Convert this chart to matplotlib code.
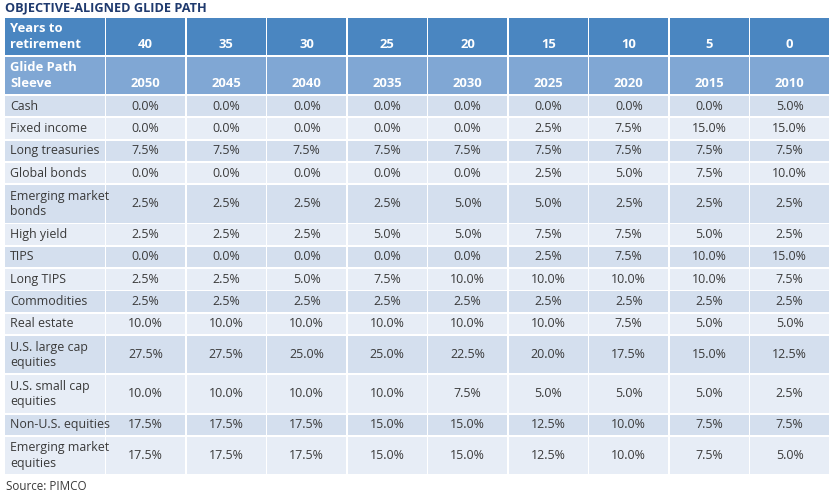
import numpy as np
import matplotlib.pyplot as plt
from matplotlib.patches import Rectangle

plt.rcParams['font.family'] = ['Open Sans', 'DejaVu Sans']

years_to_retirement = ['40', '35', '30', '25', '20', '15', '10', '5', '0']
vintages = ['2050', '2045', '2040', '2035', '2030', '2025', '2020', '2015', '2010']

sleeves = ['Cash', 'Fixed income', 'Long treasuries', 'Global bonds',
           'Emerging market\nbonds', 'High yield', 'TIPS', 'Long TIPS',
           'Commodities', 'Real estate', 'U.S. large cap\nequities',
           'U.S. small cap\nequities', 'Non-U.S. equities',
           'Emerging market\nequities']

# weights in %, one row per sleeve, columns follow the vintages
weights = np.array([
    [0.0, 0.0, 0.0, 0.0, 0.0, 0.0, 0.0, 0.0, 5.0],
    [0.0, 0.0, 0.0, 0.0, 0.0, 2.5, 7.5, 15.0, 15.0],
    [7.5, 7.5, 7.5, 7.5, 7.5, 7.5, 7.5, 7.5, 7.5],
    [0.0, 0.0, 0.0, 0.0, 0.0, 2.5, 5.0, 7.5, 10.0],
    [2.5, 2.5, 2.5, 2.5, 5.0, 5.0, 2.5, 2.5, 2.5],
    [2.5, 2.5, 2.5, 5.0, 5.0, 7.5, 7.5, 5.0, 2.5],
    [0.0, 0.0, 0.0, 0.0, 0.0, 2.5, 7.5, 10.0, 15.0],
    [2.5, 2.5, 5.0, 7.5, 10.0, 10.0, 10.0, 10.0, 7.5],
    [2.5, 2.5, 2.5, 2.5, 2.5, 2.5, 2.5, 2.5, 2.5],
    [10.0, 10.0, 10.0, 10.0, 10.0, 10.0, 7.5, 5.0, 5.0],
    [27.5, 27.5, 25.0, 25.0, 22.5, 20.0, 17.5, 15.0, 12.5],
    [10.0, 10.0, 10.0, 10.0, 7.5, 5.0, 5.0, 5.0, 2.5],
    [17.5, 17.5, 17.5, 15.0, 15.0, 12.5, 10.0, 7.5, 7.5],
    [17.5, 17.5, 17.5, 15.0, 15.0, 12.5, 10.0, 7.5, 5.0],
])

W, H = 835, 497
fig = plt.figure(figsize=(W / 100, H / 100), dpi=100)
ax = fig.add_axes([0, 0, 1, 1])
ax.set_xlim(0, W)
ax.set_ylim(H, 0)
ax.axis('off')

HEAD1 = '#4a86c1'
HEAD2 = '#80a7d4'
ROW_DARK = '#d4dfee'
ROW_LIGHT = '#e7edf6'
TXT = '#3a3a3a'
NAVY = '#1f3a6e'

left, right = 4, 830
first_w = 101.5
col_w = (right - left - first_w) / len(vintages)
col_x = [left] + [left + first_w + i * col_w for i in range(len(vintages))]
col_ws = [first_w] + [col_w] * len(vintages)
gap = 1.8

ax.text(left + 1, 8, 'OBJECTIVE-ALIGNED GLIDE PATH', fontsize=9.2,
        fontweight='bold', color=NAVY, va='center', ha='left')


def draw_row(y0, h, color, cells, bold, tcolor, top_label=False):
    fs = 9.4 if bold else 8.9
    fw = 'bold' if bold else 'normal'
    for j, (x, w) in enumerate(zip(col_x, col_ws)):
        ax.add_patch(Rectangle((x + gap / 2, y0 + gap / 2), w - gap, h - gap,
                               facecolor=color, edgecolor='none'))
        if j == 0:
            ax.text(x + 6, y0 + h / 2, cells[j], fontsize=fs, fontweight=fw,
                    color=tcolor, ha='left', va='center', linespacing=1.22)
        else:
            yy = y0 + h * 0.71 if top_label else y0 + h / 2
            ax.text(x + w / 2, yy, cells[j], fontsize=fs, fontweight=fw,
                    color=tcolor, ha='center', va='center')


y = 17.0
head_h = 39.0
draw_row(y, head_h, HEAD1, ['Years to\nretirement'] + years_to_retirement,
         True, 'white', top_label=True)
y += head_h
draw_row(y, head_h, HEAD2, ['Glide Path\nSleeve'] + vintages,
         True, 'white', top_label=True)
y += head_h

single_h, double_h = 22.3, 39.3
for i, name in enumerate(sleeves):
    h = double_h if '\n' in name else single_h
    color = ROW_DARK if i % 2 == 0 else ROW_LIGHT
    cells = [name] + ['%.1f%%' % v for v in weights[i]]
    draw_row(y, h, color, cells, False, TXT)
    y += h

ax.text(left + 2, y + 11, 'Source: PIMCO', fontsize=8.4, color=TXT,
        ha='left', va='center')

fig.savefig('out.png', dpi=100)
